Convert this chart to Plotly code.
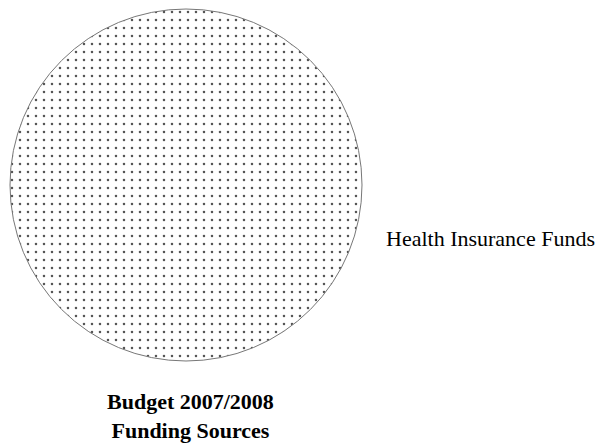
import plotly.graph_objects as go

labels = ["Health Insurance Funds"]
values = [100]
title_lines = ["Budget 2007/2008", "Funding Sources"]

W, H = 599, 443

fig = go.Figure(go.Pie(
    labels=labels,
    values=values,
    textinfo="none",
    sort=False,
    direction="clockwise",
    rotation=0,
    hoverinfo="label+percent",
    marker=dict(
        colors=["white"],
        line=dict(color="#777777", width=1),
        pattern=dict(shape=".", fgcolor="#555555", bgcolor="white", size=8, solidity=0.08),
    ),
    domain=dict(x=[10 / W, 362 / W], y=[(H - 362) / H, (H - 8) / H]),
    showlegend=False,
))

fig.add_annotation(
    text=labels[0], x=384 / W, y=1 - 238 / H, xref="paper", yref="paper",
    xanchor="left", yanchor="middle", showarrow=False,
    font=dict(family="Liberation Serif", size=22, color="black"),
)
fig.add_annotation(
    text="<b>" + "<br>".join(title_lines) + "</b>", x=190 / W, y=1 - 416 / H,
    xref="paper", yref="paper", xanchor="center", yanchor="middle", showarrow=False,
    font=dict(family="Liberation Serif", size=22, color="black"),
)

fig.update_layout(
    width=W, height=H,
    margin=dict(l=0, r=0, t=0, b=0),
    paper_bgcolor="white", plot_bgcolor="white",
)

fig.write_html("out.html")
